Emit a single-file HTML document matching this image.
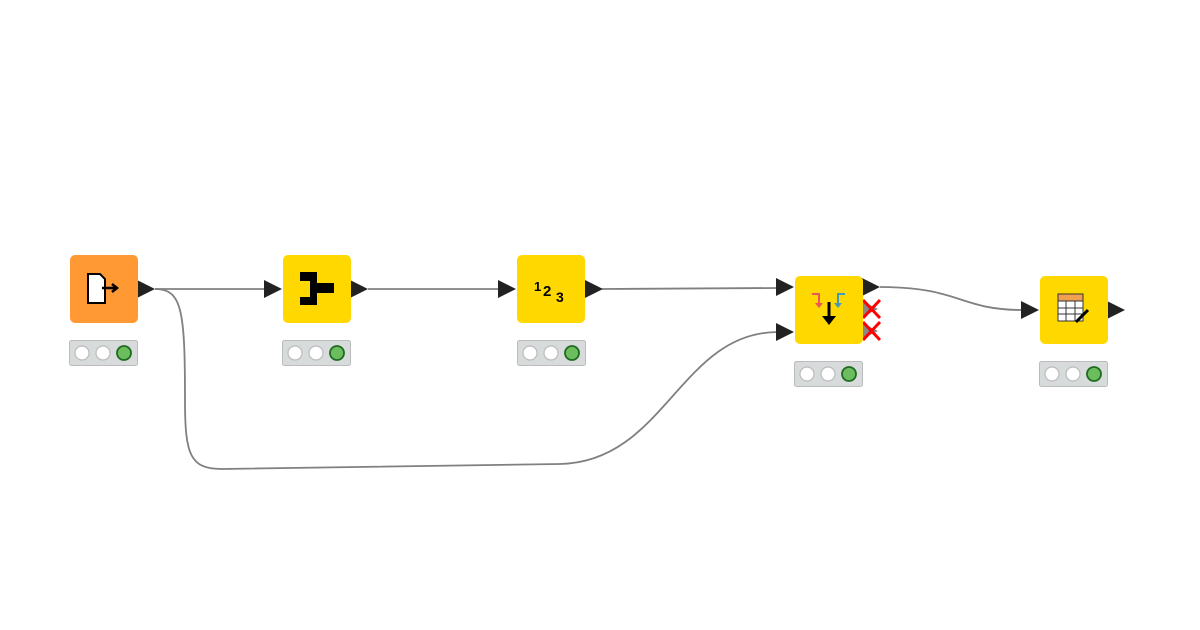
<!DOCTYPE html>
<html><head><style>body{margin:0;background:#fff}svg{display:block}</style></head><body>
<svg width="1200" height="630" viewBox="0 0 1200 630" xmlns="http://www.w3.org/2000/svg">
<g fill="none" stroke="#808080" stroke-width="1.8">
<path d="M155,289 L265,289"/>
<path d="M368,289 L500,289"/>
<path d="M602,289 L778,288"/>
<path d="M880,287 C960,287 960,310 1022,310"/>
<path d="M155,289 C182,289 185,310 185,400 C185,455 190,469 222,469 L560,464 C665,462 680,332 778,332"/>
</g>
<g fill="#222">
<polygon points="137,280 155,289 137,298"/>
<polygon points="264,280 282,289 264,298"/>
<polygon points="350,280 368,289 350,298"/>
<polygon points="498,280 516,289 498,298"/>
<polygon points="585,280 603,289 585,298"/>
<polygon points="776,278 794,287 776,296"/>
<polygon points="776,323 794,332 776,341"/>
<polygon points="862,278 880,287 862,296"/>
<polygon points="862,301 878,309 862,317" fill="#888"/>
<polygon points="862,323 878,331 862,339" fill="#888"/>
<polygon points="1021,301 1039,310 1021,319"/>
<polygon points="1107,301 1125,310 1107,319"/>
</g>
<g stroke="#f00" stroke-width="3">
<path d="M863,300 L880,318 M880,300 L863,318"/>
<path d="M863,322 L880,340 M880,322 L863,340"/>
</g>
<rect x="70" y="255" width="68" height="68" rx="5" fill="#ff9933"/>
<rect x="283" y="255" width="68" height="68" rx="5" fill="#ffd800"/>
<rect x="517" y="255" width="68" height="68" rx="5" fill="#ffd800"/>
<rect x="795" y="276" width="68" height="68" rx="5" fill="#ffd800"/>
<rect x="1040" y="276" width="68" height="68" rx="5" fill="#ffd800"/>
<!-- icons -->
<path d="M88,274 L100,274 L105,279 L105,303 L88,303 Z" fill="#fff" stroke="#000" stroke-width="2"/>
<path d="M102,288 L116,288 M112,284 L117,288 L112,292" stroke="#000" stroke-width="2.5" fill="none"/>
<path d="M300,272 L317,272 L317,283 L334,283 L334,293 L317,293 L317,305 L300,305 L300,297 L310,297 L310,281 L300,281 Z" fill="#000"/>
<text x="534" y="291" font-family="Liberation Sans,sans-serif" font-size="13" font-weight="bold">1</text>
<text x="543" y="296" font-family="Liberation Sans,sans-serif" font-size="15" font-weight="bold">2</text>
<text x="556" y="302" font-family="Liberation Sans,sans-serif" font-size="14" font-weight="bold">3</text>
<path d="M812,294 L819,294 L819,305" stroke="#e55" stroke-width="2" fill="none"/><polygon points="815,303 823,303 819,308" fill="#e55"/>
<path d="M845,294 L838,294 L838,305" stroke="#49b" stroke-width="2" fill="none"/><polygon points="834,303 842,303 838,308" fill="#49b"/>
<path d="M829,302 L829,320" stroke="#000" stroke-width="3"/><polygon points="822,316 836,316 829,325" fill="#000"/>
<rect x="1058" y="294" width="25" height="7" fill="#f0a050" stroke="#333"/>
<rect x="1058" y="301" width="25" height="20" fill="#fff" stroke="#333"/>
<path d="M1058,308 L1083,308 M1058,314 L1083,314 M1066,301 L1066,321 M1075,301 L1075,321" stroke="#333"/>
<path d="M1076,322 L1088,310" stroke="#000" stroke-width="3"/>
<!-- status bars -->
<g>
<rect x="69.5" y="340.5" width="68" height="25" rx="2" fill="#d8dbdb" stroke="#bcbcbc"/>
<rect x="282.5" y="340.5" width="68" height="25" rx="2" fill="#d8dbdb" stroke="#bcbcbc"/>
<rect x="517.5" y="340.5" width="68" height="25" rx="2" fill="#d8dbdb" stroke="#bcbcbc"/>
<rect x="794.5" y="361.5" width="68" height="25" rx="2" fill="#d8dbdb" stroke="#bcbcbc"/>
<rect x="1039.5" y="361.5" width="68" height="25" rx="2" fill="#d8dbdb" stroke="#bcbcbc"/>
</g>
<g fill="#fff" stroke="#bbb" stroke-width="1.2">
<circle cx="82" cy="353" r="7"/><circle cx="103" cy="353" r="7"/>
<circle cx="295" cy="353" r="7"/><circle cx="316" cy="353" r="7"/>
<circle cx="530" cy="353" r="7"/><circle cx="551" cy="353" r="7"/>
<circle cx="807" cy="374" r="7"/><circle cx="828" cy="374" r="7"/>
<circle cx="1052" cy="374" r="7"/><circle cx="1073" cy="374" r="7"/>
</g>
<g fill="#6cbd5e" stroke="#1f6b1f" stroke-width="1.8">
<circle cx="124" cy="353" r="7"/><circle cx="337" cy="353" r="7"/><circle cx="572" cy="353" r="7"/>
<circle cx="849" cy="374" r="7"/><circle cx="1094" cy="374" r="7"/>
</g>
</svg>
</body></html>
